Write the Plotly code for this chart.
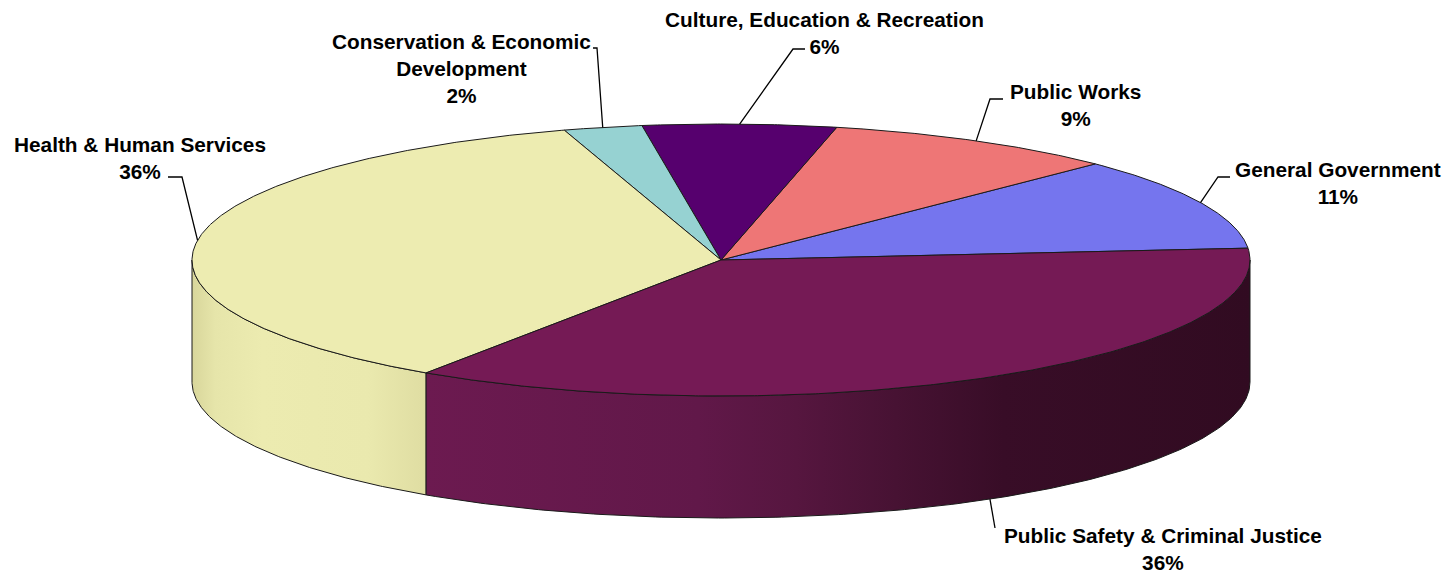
import numpy as np
import plotly.graph_objects as go

# ---- data -------------------------------------------------------------
categories = [
    "General Government",
    "Public Works",
    "Culture, Education & Recreation",
    "Conservation & Economic Development",
    "Health & Human Services",
    "Public Safety & Criminal Justice",
]
label_lines = [
    "General Government",
    "Public Works",
    "Culture, Education & Recreation",
    "Conservation & Economic<br>Development",
    "Health & Human Services",
    "Public Safety & Criminal Justice",
]
shares = [11.1, 9.0, 5.9, 2.4, 35.8, 35.8]

top_colors = ["#7575EE", "#EE7676", "#56006E", "#96D2D2", "#EDECB1", "#751A55"]
# side-wall shading (left -> right)
side_scales = {
    "Health & Human Services": [
        [0.0, "#D8D69B"], [0.1, "#E6E5AA"], [0.3, "#ECEBB0"],
        [0.75, "#EAE9AE"], [1.0, "#DFDDA2"],
    ],
    "Public Safety & Criminal Justice": [
        [0.0, "#6C1A50"], [0.33, "#611849"], [0.45, "#56163F"],
        [0.57, "#471233"], [0.70, "#380D27"], [1.0, "#310B21"],
    ],
}

# ---- layout of the 3-D disc (pixel space) ----------------------------
W, H = 1453, 575
CX, CY = 721, 260
RX, RY = 529, 136
DEPTH = 122
START = 5.0  # degrees, counter-clockwise from 3 o'clock


def rim(theta_deg, depth=0.0):
    t = np.radians(theta_deg)
    return CX + RX * np.cos(t), CY - RY * np.sin(t) + depth


fig = go.Figure()

angles = [START]
for s in shares:
    angles.append(angles[-1] + 360.0 * s / sum(shares))

# side walls: only the front half (180..360 deg) is visible
for i, cat in enumerate(categories):
    a1, a2 = angles[i], angles[i + 1]
    lo, hi = max(a1, 180.0), min(a2, 360.0)
    if hi <= lo:
        continue
    th = np.linspace(lo, hi, 200)
    xt, yt = rim(th)
    xb, yb = rim(th[::-1], DEPTH)
    xs = np.concatenate([xt, xb, xt[:1]])
    ys = np.concatenate([yt, yb, yt[:1]])
    fig.add_trace(go.Scatter(
        x=xs, y=ys, mode="lines", fill="toself",
        fillgradient=dict(type="horizontal", colorscale=side_scales[cat]),
        line=dict(color="#1a1a1a", width=1),
        hoverinfo="skip", showlegend=False,
    ))

# top faces
for i, cat in enumerate(categories):
    a1, a2 = angles[i], angles[i + 1]
    th = np.linspace(a1, a2, max(int((a2 - a1) * 3), 8))
    xa, ya = rim(th)
    xs = np.concatenate([[CX], xa, [CX]])
    ys = np.concatenate([[CY], ya, [CY]])
    fig.add_trace(go.Scatter(
        x=xs, y=ys, mode="lines", fill="toself", fillcolor=top_colors[i],
        line=dict(color="#1a1a1a", width=1),
        name=cat, hoverinfo="name", showlegend=False,
    ))

# labels with leader lines
label_pos = {
    "General Government": (1338, 183),
    "Public Works": (1075, 105),
    "Culture, Education & Recreation": (824, 33),
    "Conservation & Economic Development": (461, 68),
    "Health & Human Services": (140, 158),
    "Public Safety & Criminal Justice": (1163, 549),
}
leader_start = {
    "General Government": [(1230, 177), (1218, 177)],
    "Public Works": [(1003, 99), (990, 99)],
    "Culture, Education & Recreation": [(805, 49), (793, 49)],
    "Conservation & Economic Development": [(593, 48), (597, 48)],
    "Health & Human Services": [(168, 177), (182, 177)],
    "Public Safety & Criminal Justice": [(995, 528)],
}

for i, cat in enumerate(categories):
    mid = 0.5 * (angles[i] + angles[i + 1])
    depth = DEPTH if np.sin(np.radians(mid)) < 0 else 0.0
    ex, ey = rim(mid, depth)
    pts = leader_start[cat] + [(ex, ey)]
    fig.add_trace(go.Scatter(
        x=[p[0] for p in pts], y=[p[1] for p in pts], mode="lines",
        line=dict(color="black", width=1.3),
        hoverinfo="skip", showlegend=False,
    ))
    lx, ly = label_pos[cat]
    fig.add_annotation(
        x=lx, y=ly, xref="x", yref="y",
        text=f"{label_lines[i]}<br>{round(shares[i]):d}%",
        showarrow=False, align="center",
        xanchor="center", yanchor="middle",
        font=dict(family="Liberation Sans, Arial, sans-serif", size=20.8,
                  color="black", weight="bold"),
    )

fig.update_layout(
    width=W, height=H,
    margin=dict(l=0, r=0, t=0, b=0),
    paper_bgcolor="white", plot_bgcolor="white",
    xaxis=dict(range=[0, W], visible=False, fixedrange=True),
    yaxis=dict(range=[H, 0], visible=False, fixedrange=True),
    showlegend=False,
)

fig.write_html("out.html")
